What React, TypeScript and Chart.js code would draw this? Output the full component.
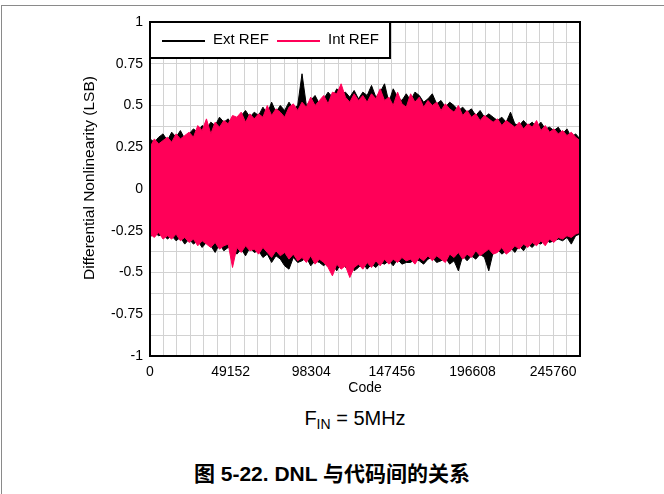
import React, { useEffect, useRef } from "react";
import { Chart, registerables } from "chart.js";

Chart.register(...registerables);

const CODE_MAX = 262144;
const X_STEP = 8192;
const X_LABEL_STEP = 49152;
const Y_MIN = -1;
const Y_MAX = 1;
const Y_STEP = 0.125;
const Y_LABEL_STEP = 0.25;

const SERIES_NAMES = ["Ext REF", "Int REF"];
const SERIES_COLORS = ["#000000", "#FF0058"];

// Per-bin peak values (100 bins across the code range)
const EXT_HI = [
  0.30, 0.28, 0.31, 0.33, 0.29, 0.34, 0.31, 0.35, 0.30, 0.33,
  0.36, 0.34, 0.38, 0.36, 0.40, 0.38, 0.43, 0.40, 0.42, 0.38,
  0.41, 0.44, 0.47, 0.43, 0.46, 0.44, 0.49, 0.45, 0.52, 0.46,
  0.50, 0.47, 0.52, 0.48, 0.50, 0.69, 0.50, 0.53, 0.56, 0.51,
  0.54, 0.58, 0.55, 0.60, 0.57, 0.58, 0.55, 0.59, 0.54, 0.58,
  0.56, 0.62, 0.55, 0.58, 0.63, 0.52, 0.60, 0.55, 0.53, 0.57,
  0.53, 0.58, 0.56, 0.52, 0.54, 0.57, 0.51, 0.53, 0.49, 0.52,
  0.50, 0.47, 0.49, 0.46, 0.48, 0.44, 0.47, 0.43, 0.45, 0.43,
  0.41, 0.43, 0.40, 0.46, 0.39, 0.38, 0.41, 0.38, 0.40, 0.37,
  0.40, 0.36, 0.37, 0.35, 0.37, 0.33, 0.36, 0.31, 0.33, 0.30,
];
const EXT_LO = [
  -0.29, -0.26, -0.28, -0.27, -0.30, -0.28, -0.31, -0.29, -0.33, -0.30,
  -0.33, -0.31, -0.35, -0.32, -0.34, -0.38, -0.33, -0.37, -0.35, -0.36,
  -0.39, -0.36, -0.40, -0.35, -0.38, -0.37, -0.41, -0.39, -0.44, -0.40,
  -0.42, -0.46, -0.48, -0.41, -0.44, -0.43, -0.41, -0.46, -0.43, -0.44,
  -0.46, -0.43, -0.45, -0.49, -0.44, -0.47, -0.45, -0.49, -0.47, -0.44,
  -0.48, -0.45, -0.47, -0.44, -0.45, -0.43, -0.46, -0.42, -0.45, -0.44,
  -0.44, -0.42, -0.43, -0.45, -0.42, -0.41, -0.44, -0.43, -0.41, -0.45,
  -0.43, -0.49, -0.40, -0.43, -0.40, -0.42, -0.39, -0.41, -0.49, -0.38,
  -0.36, -0.39, -0.37, -0.35, -0.38, -0.34, -0.37, -0.33, -0.35, -0.32,
  -0.33, -0.30, -0.32, -0.31, -0.30, -0.31, -0.29, -0.33, -0.28, -0.27,
];
const INT_HI = [
  0.25, 0.30, 0.27, 0.29, 0.31, 0.28, 0.33, 0.30, 0.32, 0.34,
  0.31, 0.38, 0.35, 0.42, 0.33, 0.40, 0.37, 0.41, 0.39, 0.44,
  0.43, 0.46, 0.40, 0.45, 0.42, 0.45, 0.43, 0.50, 0.44, 0.48,
  0.46, 0.43, 0.49, 0.51, 0.47, 0.52, 0.49, 0.55, 0.50, 0.53,
  0.56, 0.51, 0.58, 0.57, 0.63, 0.55, 0.52, 0.57, 0.53, 0.56,
  0.52, 0.57, 0.54, 0.60, 0.53, 0.55, 0.50, 0.58, 0.51, 0.49,
  0.57, 0.52, 0.55, 0.49, 0.53, 0.50, 0.52, 0.47, 0.51, 0.48,
  0.46, 0.50, 0.44, 0.47, 0.43, 0.45, 0.41, 0.44, 0.42, 0.40,
  0.42, 0.38, 0.41, 0.39, 0.37, 0.40, 0.36, 0.39, 0.37, 0.41,
  0.35, 0.38, 0.34, 0.36, 0.33, 0.35, 0.32, 0.34, 0.31, 0.29,
];
const INT_LO = [
  -0.27, -0.29, -0.26, -0.30, -0.28, -0.30, -0.27, -0.31, -0.29, -0.32,
  -0.30, -0.34, -0.31, -0.33, -0.35, -0.32, -0.36, -0.34, -0.33, -0.47,
  -0.35, -0.38, -0.34, -0.37, -0.36, -0.39, -0.35, -0.38, -0.41, -0.37,
  -0.40, -0.38, -0.42, -0.39, -0.43, -0.41, -0.44, -0.40, -0.45, -0.42,
  -0.44, -0.47, -0.52, -0.45, -0.48, -0.46, -0.53, -0.47, -0.45, -0.48,
  -0.44, -0.47, -0.43, -0.46, -0.42, -0.45, -0.42, -0.44, -0.41, -0.43,
  -0.42, -0.45, -0.41, -0.43, -0.40, -0.43, -0.40, -0.42, -0.44, -0.39,
  -0.41, -0.38, -0.42, -0.39, -0.41, -0.37, -0.40, -0.38, -0.36, -0.39,
  -0.38, -0.35, -0.39, -0.37, -0.34, -0.36, -0.33, -0.35, -0.32, -0.34,
  -0.31, -0.34, -0.30, -0.32, -0.29, -0.30, -0.28, -0.29, -0.27, -0.26,
];

const FONT = '"Liberation Sans", Arial, Helvetica, sans-serif';

function toPoints(values: number[]) {
  const n = values.length;
  return values.map((v, i) => ({ x: (i * (CODE_MAX - 1)) / (n - 1), y: v }));
}

const decorPlugin = {
  id: "decor",
  afterDatasetsDraw(chart: any) {
    const { ctx, chartArea: a } = chart;
    ctx.save();
    // plot frame
    ctx.strokeStyle = "#000";
    ctx.lineWidth = 2;
    ctx.strokeRect(a.left, a.top, a.right - a.left, a.bottom - a.top);

    // legend box
    const lx = a.left;
    const ly = a.top;
    const lw = 240;
    const lh = 36;
    ctx.fillStyle = "#fff";
    ctx.fillRect(lx, ly, lw, lh);
    ctx.strokeRect(lx, ly, lw, lh);
    ctx.font = `15px ${FONT}`;
    ctx.textBaseline = "middle";
    ctx.textAlign = "left";
    const items = [
      { x0: lx + 12, x1: lx + 55, tx: lx + 63 },
      { x0: lx + 127, x1: lx + 170, tx: lx + 178 },
    ];
    items.forEach((it, i) => {
      ctx.strokeStyle = SERIES_COLORS[i];
      ctx.lineWidth = 2;
      ctx.beginPath();
      ctx.moveTo(it.x0, ly + 19);
      ctx.lineTo(it.x1, ly + 19);
      ctx.stroke();
      ctx.fillStyle = "#000";
      ctx.fillText(SERIES_NAMES[i], it.tx, ly + 18);
    });

    // axis titles
    ctx.fillStyle = "#000";
    ctx.font = `14px ${FONT}`;
    ctx.textAlign = "center";
    ctx.textBaseline = "middle";
    ctx.fillText("Code", (a.left + a.right) / 2, a.bottom + 32);

    ctx.save();
    ctx.translate(90, 178);
    ctx.rotate(-Math.PI / 2);
    ctx.font = `15.5px ${FONT}`;
    ctx.fillText("Differential Nonlinearity (LSB)", 0, 0);
    ctx.restore();

    ctx.restore();
  },
};

export default function App() {
  const ref = useRef<HTMLCanvasElement | null>(null);

  useEffect(() => {
    if (!ref.current) return;
    Chart.defaults.font.family = FONT;
    const chart = new Chart(ref.current, {
      type: "line",
      data: {
        datasets: [
          {
            label: SERIES_NAMES[1] + " hi",
            data: toPoints(INT_HI),
            borderColor: SERIES_COLORS[1],
            backgroundColor: SERIES_COLORS[1],
            borderWidth: 1,
            fill: "+1",
            order: 0,
          },
          {
            label: SERIES_NAMES[1] + " lo",
            data: toPoints(INT_LO),
            borderColor: SERIES_COLORS[1],
            backgroundColor: SERIES_COLORS[1],
            borderWidth: 1,
            fill: false,
            order: 0,
          },
          {
            label: SERIES_NAMES[0] + " hi",
            data: toPoints(EXT_HI),
            borderColor: SERIES_COLORS[0],
            backgroundColor: SERIES_COLORS[0],
            borderWidth: 1,
            fill: "+1",
            order: 1,
          },
          {
            label: SERIES_NAMES[0] + " lo",
            data: toPoints(EXT_LO),
            borderColor: SERIES_COLORS[0],
            backgroundColor: SERIES_COLORS[0],
            borderWidth: 1,
            fill: false,
            order: 1,
          },
        ],
      },
      options: {
        responsive: false,
        animation: false,
        layout: { padding: { top: 22, right: 84, left: 0, bottom: 0 } },
        elements: { point: { radius: 0 }, line: { tension: 0 } },
        plugins: {
          legend: { display: false },
          tooltip: { enabled: false },
        },
        scales: {
          x: {
            type: "linear",
            min: 0,
            max: CODE_MAX,
            afterFit: (s: any) => {
              s.height = 44;
            },
            grid: { color: "#d2d2d2", lineWidth: 1, drawTicks: false },
            border: { display: true, color: "#000", width: 2 },
            ticks: {
              stepSize: X_STEP,
              maxTicksLimit: 1000,
              autoSkip: false,
              maxRotation: 0,
              minRotation: 0,
              padding: 8,
              color: "#000",
              font: { size: 14 },
              callback: (v: any) => (Number(v) % X_LABEL_STEP === 0 ? String(v) : ""),
            },
          },
          y: {
            min: Y_MIN,
            max: Y_MAX,
            afterFit: (s: any) => {
              s.width = 150;
            },
            grid: { color: "#d2d2d2", lineWidth: 1, drawTicks: false },
            border: { display: true, color: "#000", width: 2 },
            ticks: {
              stepSize: Y_STEP,
              maxTicksLimit: 1000,
              autoSkip: false,
              padding: 7,
              color: "#000",
              font: { size: 14 },
              callback: (v: any) => {
                const n = Number(v);
                const r = n / Y_LABEL_STEP;
                return Math.abs(r - Math.round(r)) < 1e-9 ? String(Math.round(n * 100) / 100) : "";
              },
            },
          },
        },
      },
      plugins: [decorPlugin],
    } as any);
    return () => chart.destroy();
  }, []);

  return (
    <div
      style={{
        position: "absolute",
        left: 0,
        top: 0,
        width: 664,
        height: 494,
        background: "#fff",
        overflow: "hidden",
        fontFamily: FONT,
        color: "#000",
      }}
    >
      <div
        style={{
          position: "absolute",
          left: 1,
          top: 5,
          right: 0,
          bottom: 0,
          borderLeft: "1px solid #8a8a8a",
          borderTop: "1px solid #8a8a8a",
        }}
      />
      <canvas
        ref={ref}
        width={664}
        height={400}
        style={{ position: "absolute", left: 0, top: 0, display: "block" }}
      />
      <div
        style={{
          position: "absolute",
          left: 0,
          width: 710,
          top: 406,
          textAlign: "center",
          fontSize: 20,
          lineHeight: "24px",
          whiteSpace: "nowrap",
        }}
      >
        F<sub style={{ fontSize: 14, verticalAlign: "-4px", lineHeight: 0 }}>IN</sub> = 5MHz
      </div>
      <div
        style={{
          position: "absolute",
          left: 0,
          width: 664,
          top: 462,
          textAlign: "center",
          fontSize: 21,
          lineHeight: "24px",
          fontWeight: "bold",
          whiteSpace: "nowrap",
          fontFamily: `"Liberation Sans", Arial, "Noto Sans CJK SC", sans-serif`,
        }}
      >
        图 5-22. DNL 与代码间的关系
      </div>
    </div>
  );
}
